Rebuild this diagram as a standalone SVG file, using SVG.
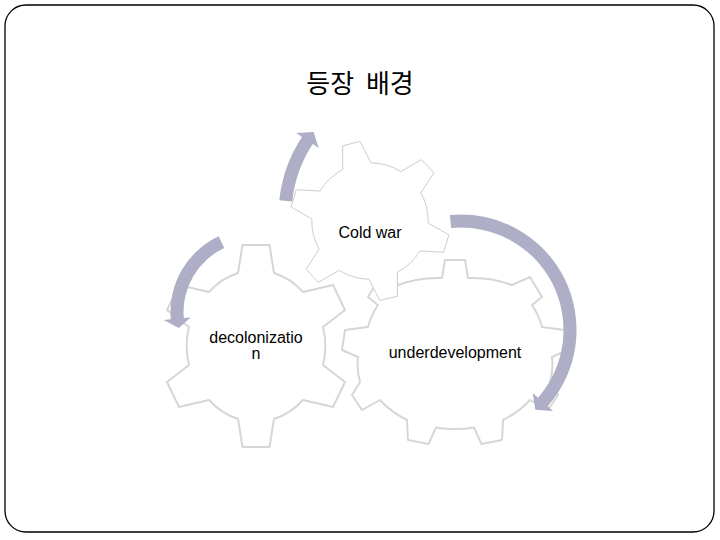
<svg xmlns="http://www.w3.org/2000/svg" width="720" height="540" viewBox="0 0 720 540">
<style>
.gear{fill:#ffffff;stroke:#d6d6d6;stroke-width:2;stroke-linejoin:round}
.gearsm{fill:#ffffff;stroke:#cdcdcd;stroke-width:1;stroke-linejoin:round}
.arrow{fill:#aeaec6;stroke:none}
.lbl{font-family:"Liberation Sans",Arial,sans-serif;font-size:16px;fill:#000000;text-anchor:middle}
.title{font-family:"Noto Sans CJK KR","Noto Sans CJK SC",sans-serif;font-size:26px;fill:#000000;text-anchor:middle;word-spacing:6px}
</style>
<rect width="720" height="540" fill="#ffffff"/>
<rect x="5" y="5" width="709" height="527" rx="21" ry="21" fill="none" stroke="#000000" stroke-width="1.3"/>
<text class="title" x="360" y="93">등장 배경</text>
<g id="underdevelopment">
<path class="gear" d="M442,278 L445,260 L465,260 L468,278 A95,78 0 0 1 512,285 L530,277 L542,297 L532,305 A95,78 0 0 1 542,327 L565,330 L568,350 L552,357 A95,78 0 0 1 550,382 L558,395 L548,410 L530,400 A95,78 0 0 1 503,420 L502,440 L481.5,444 L474,427.5 A95,78 0 0 1 436,427.5 L428.5,444 L408,440 L407,420 A95,78 0 0 1 380,400 L362,410 L352,395 L360,382 A95,78 0 0 1 358,357 L342,350 L345,330 L368,327 A95,78 0 0 1 378,305 L368,297 L380,277 L398,285 A95,78 0 0 1 442,278 Z"/>
<text class="lbl" x="455" y="358">underdevelopment</text>
</g>
<g id="decolonization">
<path class="gear" d="M238,273 L242.5,245 L269.5,245 L274,273 A67,73 0 0 1 303,292 L333,285 L345,310 L323,327 A67,73 0 0 1 323,365 L345,382 L333,407 L303,400 A67,73 0 0 1 274,419 L269.5,447 L242.5,447 L238,419 A67,73 0 0 1 209,400 L179,407 L167,382 L189,365 A67,73 0 0 1 189,327 L167,310 L179,285 L209,292 A67,73 0 0 1 238,273 Z"/>
<text class="lbl" x="256" y="343">decolonizatio</text>
<text class="lbl" x="256" y="359">n</text>
</g>
<g id="coldwar">
<path class="gearsm" vector-effect="non-scaling-stroke" transform="translate(370,221) rotate(-13.5) scale(1.04)" d="M-14,-54.2 L-8.7,-76.5 L8.7,-76.5 L14,-54.2 A56,56 0 0 1 39.94,-39.22 L61.9,-45.78 L70.6,-30.72 L53.94,-14.98 A56,56 0 0 1 53.94,14.98 L70.6,30.72 L61.9,45.78 L39.94,39.22 A56,56 0 0 1 14,54.2 L8.7,76.5 L-8.7,76.5 L-14,54.2 A56,56 0 0 1 -39.94,39.22 L-61.9,45.78 L-70.6,30.72 L-53.94,14.98 A56,56 0 0 1 -53.94,-14.98 L-70.6,-30.72 L-61.9,-45.78 L-39.94,-39.22 A56,56 0 0 1 -14,-54.2 Z"/>
<text class="lbl" x="370" y="237.5">Cold war</text>
</g>
<g id="arrows">
<path class="arrow" d="M449.9,215.0 A115.5,115.5 0 0 1 547.8,406.2 L553.0,410.9 L535.3,409.7 L532.7,393.0 L538.0,397.7 A102.5,102.5 0 0 0 451.2,228.0 Z"/>
<path class="arrow" d="M218.7,236.3 A83.5,83.5 0 0 0 170.8,319.3 L163.8,319.9 L178.7,328 L190.7,317.5 L183.8,318.1 A70.5,70.5 0 0 1 224.2,248.1 Z"/>
<path class="arrow" d="M279.3,200.2 A141.5,141.5 0 0 1 302.0,136.9 L296.2,133.0 L313.6,131.9 L318.7,147.9 L312.8,144.1 A128.5,128.5 0 0 0 292.2,201.6 Z"/>
</g>
</svg>
